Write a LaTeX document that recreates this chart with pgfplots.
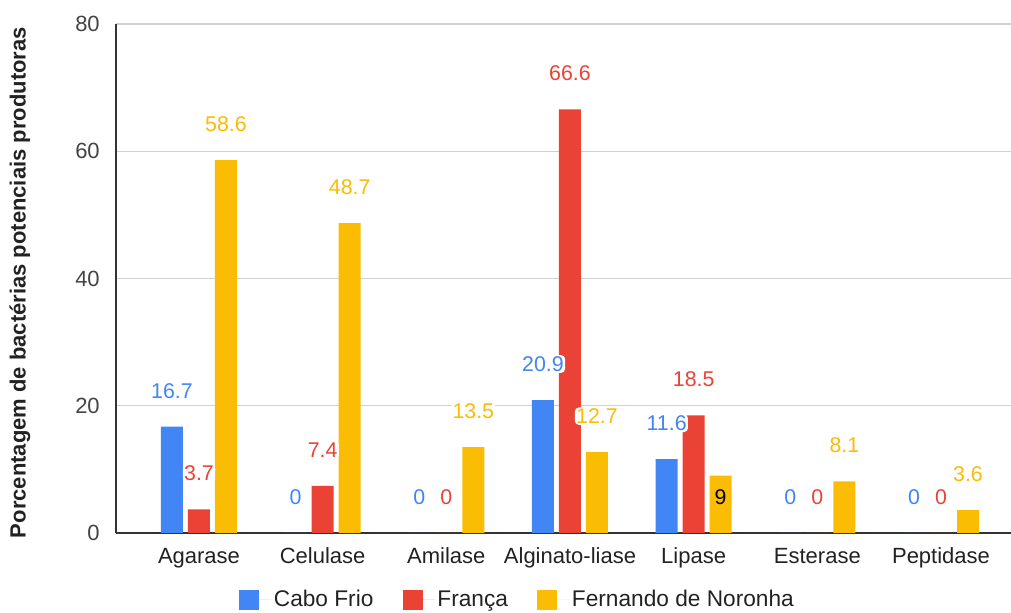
\documentclass[border=0pt]{standalone}
\usepackage{pgfplots}
\pgfplotsset{compat=1.18}
\usepackage{pgfplotstable}
\usepackage{fontspec}
\setmainfont{Liberation Sans}

\definecolor{cfblue}{HTML}{4285F4}
\definecolor{frred}{HTML}{EA4335}
\definecolor{fnyellow}{HTML}{FBBC04}
\definecolor{gridgray}{HTML}{D0D0D0}
\definecolor{axisgray}{HTML}{333333}
\definecolor{ticktext}{HTML}{444444}
\definecolor{cattext}{HTML}{222222}

% Percentage of potential producer bacteria, per enzyme and site
\pgfplotstableread{
x cabo franca fern
0 16.7 3.7  58.6
1 0    7.4  48.7
2 0    0    13.5
3 20.9 66.6 12.7
4 11.6 18.5 9
5 0    0    8.1
6 0    0    3.6
}\rates

\begin{document}
\begin{tikzpicture}
\path[use as bounding box] (-87pt,-60pt) rectangle (671.25pt,399.75pt);
\begin{axis}[
  at={(0,0)}, anchor=south west,
  scale only axis, width=671.25pt, height=381.75pt,
  xmin=-0.671, xmax=6.566, ymin=0, ymax=80,
  xtick={0,...,6},
  xticklabels={Agarase,Celulase,Amilase,Alginato-liase,Lipase,Esterase,Peptidase},
  ytick={0,20,40,60,80},
  major tick length=0pt,
  axis x line*=bottom, axis y line*=left,
  axis line style={draw=axisgray, line width=1.1pt, -},
  ymajorgrids, grid style={draw=gridgray, line width=0.8pt},
  ybar, bar width=16.5pt,
  /pgf/number format/assume math mode=true,
  tick label style={font=\fontsize{16.5}{19}\selectfont},
  yticklabel style={text=ticktext, anchor=east, inner sep=0pt, xshift=-12pt},
  xticklabel style={text=cattext, anchor=base, inner sep=0pt, yshift=-23pt},
  ylabel={Porcentagem de bactérias potenciais produtoras},
  ylabel style={font=\bfseries\fontsize{16.5}{19}\selectfont, text=cattext,
    at={(axis description cs:-0.1073,0.492)}, anchor=center},
  nodes near coords align={center},
  every node near coord/.append style={anchor=center,
    inner sep=1pt, rounded corners=3pt, font=\fontsize{16}{19}\selectfont},
  legend style={draw=none, fill=none, legend columns=3,
    at={(axis description cs:0.449,0)}, anchor=center, yshift=-50pt,
    font=\fontsize{17}{20}\selectfont, text=cattext,
    /tikz/every even column/.append style={column sep=20pt}},
  legend image code/.code={\fill[#1] (0pt,-7.5pt) rectangle (15pt,7.5pt);
    \path (0pt,0pt) -- (24pt,0pt);},
]
% bars
\addplot[fill=cfblue, draw=none, bar shift=-20.25pt] table[x=x, y=cabo] {\rates};
\addplot[fill=frred, draw=none, bar shift=0pt] table[x=x, y=franca] {\rates};
\addplot[fill=fnyellow, draw=none, bar shift=20.25pt] table[x=x, y=fern] {\rates};
\legend{Cabo Frio, França, Fernando de Noronha}
% value labels, drawn over all bars
\addplot[draw=none, fill=none, bar shift=-20.25pt, forget plot, nodes near coords,
  every node near coord/.append style={text=cfblue, fill=white, yshift=27pt}]
  table[x=x, y=cabo] {\rates};
\addplot[draw=none, fill=none, bar shift=0pt, forget plot, nodes near coords,
  every node near coord/.append style={text=frred, fill=white, yshift=27pt}]
  table[x=x, y=franca] {\rates};
% Lipase label sits inside its bar, in black
\addplot[draw=none, fill=none, bar shift=20.25pt, forget plot, nodes near coords,
  coordinate style/.condition={x!=4}{text=fnyellow, fill=white, yshift=27pt},
  coordinate style/.condition={x==4}{text=black, yshift=-15.75pt}]
  table[x=x, y=fern] {\rates};
\end{axis}
\end{tikzpicture}
\end{document}
